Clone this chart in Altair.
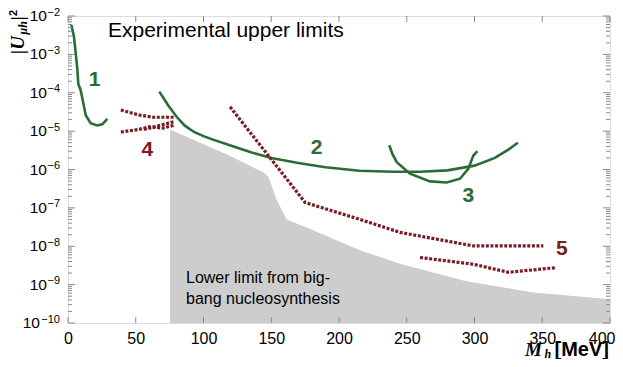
import altair as alt
import pandas as pd

# ---------------- data (x: M_h in MeV, y: |U|^2) ----------------
c1_x = [2.5, 4.4, 5.7, 6.9, 7.6, 9.4, 11.1, 13.1, 16.7, 21.6, 25.3, 29.0]
c1_y = [5.8e-3, 2.9e-3, 1.07e-3, 4.1e-4, 1.7e-4, 1.15e-4, 5.8e-5, 2.6e-5, 1.6e-5, 1.4e-5, 1.5e-5, 2.1e-5]

c2_x = [67.4, 74, 80, 86, 93, 100, 107, 120, 135, 150, 170, 190, 215, 240, 260, 280, 300, 315, 325, 332]
c2_y = [1.07e-4, 4.68e-5, 2.4e-5, 1.41e-5, 9.5e-6, 7.4e-6, 6.0e-6, 4.2e-6, 2.8e-6, 2.0e-6,
        1.48e-6, 1.15e-6, 9.3e-7, 8.7e-7, 8.7e-7, 9.5e-7, 1.26e-6, 2.0e-6, 3.3e-6, 5.0e-6]

c3_x = [237.1, 239.5, 242.6, 252.4, 267.2, 279.5, 289.3, 295.5, 299.1, 302.1]
c3_y = [4.3e-6, 2.5e-6, 1.55e-6, 7.8e-7, 4.9e-7, 4.6e-7, 5.75e-7, 1.05e-6, 2.3e-6, 3.0e-6]

c4a_x = [39, 53, 63, 79]
c4a_y = [3.55e-5, 2.6e-5, 2.3e-5, 2.3e-5]
c4b_x = [39, 52, 60, 70, 79]
c4b_y = [9.5e-6, 1.1e-5, 1.3e-5, 1.2e-5, 1.45e-5]
c4c_x = [56, 64, 72, 79]
c4c_y = [1.1e-5, 1.3e-5, 1.55e-5, 1.8e-5]

c5a_x = [119.6, 175, 215.5, 245, 299, 350.8]
c5a_y = [4.3e-5, 1.38e-7, 5.0e-8, 2.3e-8, 1.02e-8, 1.02e-8]
c5b_x = [259.8, 299, 325, 359.4]
c5b_y = [5.1e-9, 3.4e-9, 2.1e-9, 2.75e-9]

bbn_x = [75.3, 92.5, 117, 144.1, 147.9, 154, 161.4, 178.6, 215.5, 245, 294, 343.4, 397.6, 400]
bbn_y = [1.1e-5, 6.0e-6, 2.5e-6, 8.5e-7, 6.5e-7, 1.6e-7, 5.0e-8, 2.8e-8, 7.9e-9, 3.5e-9,
         1.23e-9, 6.2e-10, 4.2e-10, 4.1e-10]

label_txt = ["1", "2", "3", "4", "5"]
label_x = [19.7, 183.5, 295.5, 58.5, 364.4]
label_y = [2.2e-4, 3.7e-6, 2.0e-7, 3.2e-6, 8.7e-9]
label_col = ["g", "g", "g", "r", "r"]

x_ticks = [0, 50, 100, 150, 200, 250, 300, 350, 400]
y_exps = [-10, -9, -8, -7, -6, -5, -4, -3, -2]

# ---------------- styles ----------------
W, H = 542, 307
FONT = "Liberation Sans"
GREEN = "#2b6b36"
RED = "#7a1c22"
GREY = "#cdcdcd"
FRAME = "#8a8a8a"

xs = alt.Scale(domain=[0, 400], nice=False, zero=False)
ys = alt.Scale(type="log", domain=[1e-10, 1e-2], nice=False)
xaxis = alt.Axis(values=x_ticks, ticks=False, domain=False, grid=False, labelFontSize=16,
                 labelFont=FONT, labelColor="black", labelPadding=7, title=None, labelFlush=False,
                 labelAlign={"condition": {"test": "datum.value >= 400", "value": "right"}, "value": "center"},
                 labelOffset={"condition": {"test": "datum.value >= 400", "value": 5}, "value": 0})


def X(f="x"):
    return alt.X(f"{f}:Q", scale=xs, axis=xaxis)


def Y(f="y"):
    return alt.Y(f"{f}:Q", scale=ys, axis=None)


def series(name, xv, yv):
    return pd.DataFrame({"x": xv, "y": yv, "s": name, "o": list(range(len(xv)))})


green_df = pd.concat([series("c1", c1_x, c1_y), series("c2", c2_x, c2_y), series("c3", c3_x, c3_y)])
red_df = pd.concat([series("c4a", c4a_x, c4a_y), series("c4b", c4b_x, c4b_y), series("c4c", c4c_x, c4c_y),
                    series("c5a", c5a_x, c5a_y), series("c5b", c5b_x, c5b_y)])
bbn_df = pd.DataFrame({"x": bbn_x, "y": bbn_y, "y0": 1e-10})

area = alt.Chart(bbn_df).mark_area(color=GREY, opacity=1, interpolate="linear").encode(
    x=X(), y=Y(), y2="y0:Q")

green = alt.Chart(green_df).mark_line(color=GREEN, strokeWidth=2.6).encode(
    x=X(), y=Y(), detail="s:N", order="o:Q")
red = alt.Chart(red_df).mark_line(color=RED, strokeWidth=3.2, strokeDash=[3, 1.6], strokeCap="butt").encode(
    x=X(), y=Y(), detail="s:N", order="o:Q")

lab_df = pd.DataFrame({"t": label_txt, "x": label_x, "y": label_y, "c": label_col})
labels = alt.Chart(lab_df).mark_text(fontSize=21, fontWeight="bold", font=FONT).encode(
    x=X(), y=Y(), text="t:N",
    color=alt.Color("c:N", scale=alt.Scale(domain=["g", "r"], range=[GREEN, "#7d1a1e"]), legend=None))

# ticks (inward)
ymaj = pd.DataFrame({"y": [10.0 ** e for e in y_exps]})
ymin = pd.DataFrame({"y": [m * 10.0 ** e for e in y_exps[:-1] for m in range(2, 10)]})
xt = pd.DataFrame({"x": x_ticks})
tick_layers = [
    alt.Chart(ymaj).mark_rule(color=FRAME, strokeWidth=1).encode(y=Y(), x=alt.value(0), x2=alt.value(7)),
    alt.Chart(ymaj).mark_rule(color=FRAME, strokeWidth=1).encode(y=Y(), x=alt.value(W - 7), x2=alt.value(W)),
    alt.Chart(ymin).mark_rule(color=FRAME, strokeWidth=1).encode(y=Y(), x=alt.value(0), x2=alt.value(4)),
    alt.Chart(ymin).mark_rule(color=FRAME, strokeWidth=1).encode(y=Y(), x=alt.value(W - 4), x2=alt.value(W)),
    alt.Chart(xt).mark_rule(color=FRAME, strokeWidth=1).encode(x=X(), y=alt.value(H - 6), y2=alt.value(H)),
    alt.Chart(xt).mark_rule(color=FRAME, strokeWidth=1).encode(x=X(), y=alt.value(0), y2=alt.value(6)),
]

# y tick labels: "10" with superscript exponent
sup_df = pd.DataFrame({"y": [10.0 ** e for e in y_exps],
                       "e": ["\u2212" + str(-e) for e in y_exps],
                       "b": ["10"] * len(y_exps),
                       "two": [e <= -10 for e in y_exps]})
exp_lab = alt.Chart(sup_df).mark_text(align="right", baseline="middle", fontSize=11, font=FONT, dy=-3.5,
                                      color="black").encode(y=Y(), x=alt.value(-8), text="e:N")
base1 = alt.Chart(sup_df[~sup_df["two"]]).mark_text(align="right", baseline="middle", fontSize=15.5,
                                                    font=FONT, color="black").encode(
    y=Y(), x=alt.value(-21), text="b:N")
base2 = alt.Chart(sup_df[sup_df["two"]]).mark_text(align="right", baseline="middle", fontSize=15.5,
                                                   font=FONT, color="black").encode(
    y=Y(), x=alt.value(-28), text="b:N")


def txt(s, x, y, **kw):
    return alt.Chart(pd.DataFrame({"t": [s]})).mark_text(**kw).encode(
        text="t:N", x=alt.value(x), y=alt.value(y))


title = txt("Experimental upper limits", 40, 21, align="left", baseline="alphabetic",
            fontSize=21, font=FONT, color="black")
bbn_txt = txt("Lower limit from big-\nbang nucleosynthesis", 118, 267, align="left", baseline="alphabetic",
              fontSize=16, font=FONT, color="black", lineBreak="\n", lineHeight=21)

# y-axis title |U_{μh}|^2 (rotated)
ytl = [
    txt("|U", -44, 38, angle=270, align="left", baseline="alphabetic", fontSize=19, fontWeight="bold",
        fontStyle="italic", font="Liberation Serif", color="black"),
    txt("\u03bch", -41, 18.5, angle=270, align="left", baseline="alphabetic", fontSize=12, fontWeight="bold",
        fontStyle="italic", font="Liberation Serif", color="black"),
    txt("|", -44, 4.5, angle=270, align="left", baseline="alphabetic", fontSize=19, fontWeight="bold",
        font="Liberation Serif", color="black"),
    txt("2", -51, 0, angle=270, align="left", baseline="alphabetic", fontSize=11, fontWeight="bold",
        font=FONT, color="black"),
]

# x-axis title M_h [MeV]
xtl = [
    txt("M", 457, 340, align="left", baseline="alphabetic", fontSize=19, fontWeight="bold",
        fontStyle="italic", font="Liberation Serif", color="black"),
    txt("h", 476.5, 342, align="left", baseline="alphabetic", fontSize=12, fontWeight="bold",
        fontStyle="italic", font="Liberation Serif", color="black"),
    txt("[MeV]", 541, 340, align="right", baseline="alphabetic", fontSize=20, fontWeight="bold",
        font=FONT, color="black"),
]

chart = alt.layer(area, green, red, labels, *tick_layers, exp_lab, base1, base2, title, bbn_txt,
                  *ytl, *xtl).properties(
    width=W, height=H, autosize=alt.AutoSizeParams(type="none"),
    padding={"left": 60, "top": 8, "right": 5, "bottom": 36},
).configure_view(stroke=FRAME, strokeWidth=1).configure(background="white")

chart.save("out.html", embed_options={"renderer": "svg", "actions": False})
